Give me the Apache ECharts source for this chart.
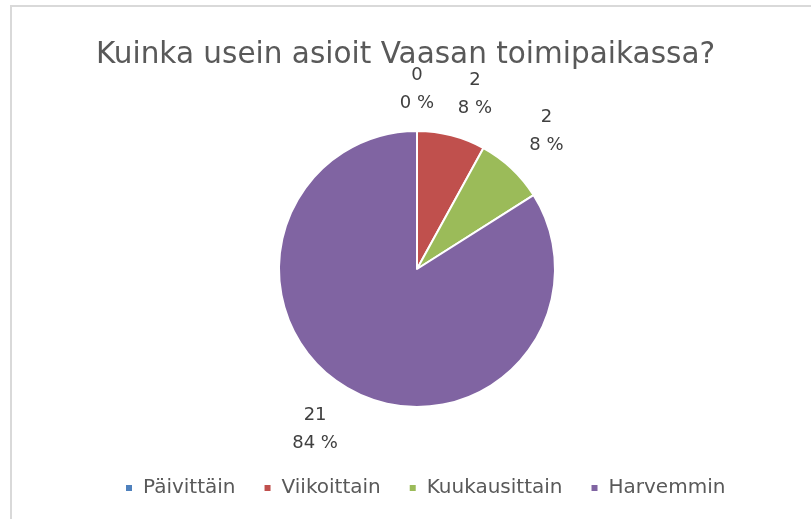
<!DOCTYPE html>
<html>
<head>
<meta charset="utf-8">
<script src="https://cdn.jsdelivr.net/npm/echarts@6/dist/echarts.min.js"></script>
<style>
  html, body { margin: 0; padding: 0; background: #fff; }
  #chart { width: 811px; height: 519px; }
</style>
</head>
<body>
<div id="chart"></div>
<script>
const categories = ['Päivittäin', 'Viikoittain', 'Kuukausittain', 'Harvemmin'];
const counts = [0, 2, 2, 21];
const colors = ['#4F81BD', '#C0504D', '#9BBB59', '#8064A2'];

const total = counts.reduce((a, b) => a + b, 0);
const CX = 417, CY = 269, R = 138;
const FONT = '"DejaVu Sans", sans-serif';

// mid angle of each slice, clockwise from 12 o'clock
const midAngles = [];
let acc = 0;
counts.forEach(v => {
  midAngles.push((acc + v / 2) / total * Math.PI * 2);
  acc += v;
});

const chart = echarts.init(document.getElementById('chart'), null, { renderer: 'canvas' });

const option = {
  backgroundColor: '#fff',
  animation: false,
  color: colors,
  title: {
    text: 'Kuinka usein asioit Vaasan toimipaikassa?',
    left: 'center',
    top: 35,
    textStyle: { fontFamily: FONT, fontSize: 29.5, fontWeight: 'normal', color: '#595959' }
  },
  legend: {
    top: 473,
    left: 119,
    icon: 'rect',
    itemWidth: 8,
    itemHeight: 8,
    itemGap: 27,
    textStyle: { fontFamily: FONT, fontSize: 20, color: '#595959', padding: [0, 0, 0, 5] },
    data: categories
  },
  graphic: [{
    type: 'rect',
    shape: { x: 11, y: 6, width: 900, height: 600 },
    style: { fill: 'none', stroke: '#d9d9d9', lineWidth: 2 },
    silent: true
  }],
  series: [{
    type: 'pie',
    center: [CX, CY],
    radius: R,
    startAngle: 90,
    clockwise: true,
    avoidLabelOverlap: false,
    itemStyle: { borderColor: '#fff', borderWidth: 2 },
    label: {
      show: true,
      position: 'outside',
      fontFamily: FONT,
      fontSize: 18,
      lineHeight: 28,
      color: '#404040',
      formatter: p => p.value + '\n' + Math.round(p.value / total * 100) + ' %'
    },
    labelLine: { show: false },
    // label box sits just outside the slice's outer end, like Excel's "outside end"
    labelLayout: params => {
      const a = midAngles[params.dataIndex];
      const sx = Math.round(Math.sin(a) * 1000) / 1000;
      const sy = Math.round(-Math.cos(a) * 1000) / 1000;
      const w = params.labelRect.width / 2, h = params.labelRect.height / 2 - 5;
      const px = CX + (R + 26) * sx, py = CY + (R + 19) * sy;
      return { x: px + Math.sign(sx) * w, y: py + Math.sign(sy) * h, align: 'center', verticalAlign: 'middle' };
    },
    emphasis: { disabled: true },
    data: categories.map((name, i) => ({ name, value: counts[i] }))
  }]
};

chart.setOption(option);
</script>
</body>
</html>
